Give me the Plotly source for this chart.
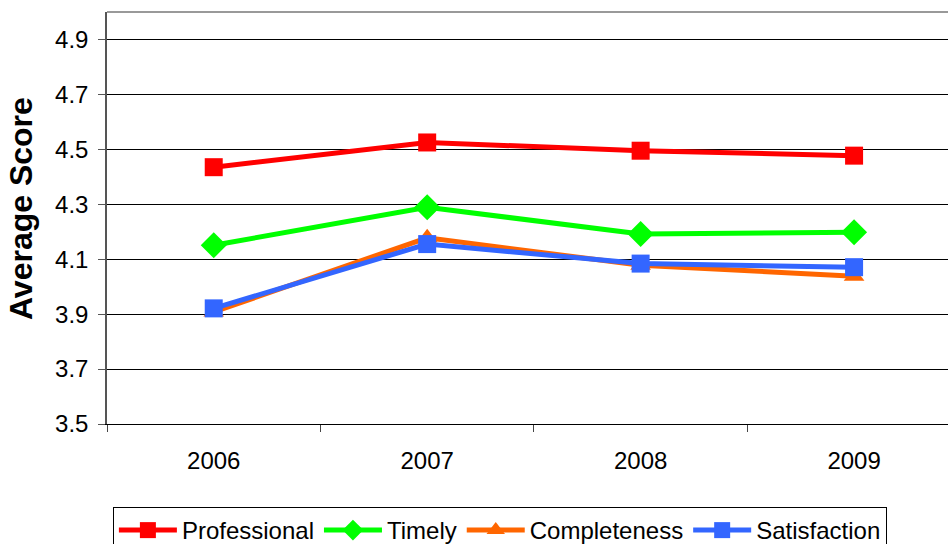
import plotly.graph_objects as go

years = ["2006", "2007", "2008", "2009"]
professional = [4.435, 4.525, 4.495, 4.477]
timely = [4.151, 4.289, 4.192, 4.198]
completeness = [3.908, 4.178, 4.078, 4.038]
satisfaction = [3.921, 4.155, 4.084, 4.071]
y_ticks = [3.5, 3.7, 3.9, 4.1, 4.3, 4.5, 4.7, 4.9]

series = [
    ("Professional", professional, "#FF0000", "square", 18),
    ("Timely", timely, "#00FF00", "diamond", 20),
    ("Completeness", completeness, "#FF6600", "triangle-up", 18),
    ("Satisfaction", satisfaction, "#3366FF", "square", 18),
]

xpos = list(range(len(years)))
fig = go.Figure()
for name, vals, color, sym, sz in series:
    fig.add_trace(go.Scatter(
        x=xpos, y=vals, name=name, mode="lines+markers",
        line=dict(color=color, width=5),
        marker=dict(symbol=sym, size=sz, color=color, line=dict(width=0)),
    ))

FONT = "Liberation Sans, Arial, sans-serif"
fig.update_layout(
    width=948, height=544,
    margin=dict(l=107, r=0, t=12, b=120, autoexpand=False),
    paper_bgcolor="white", plot_bgcolor="white",
    font=dict(family=FONT, size=24, color="black"),
    showlegend=True,
    legend=dict(
        orientation="h", x=0.007, xanchor="left", y=-0.2015, yanchor="top",
        bordercolor="black", borderwidth=1, font=dict(size=24),
        itemwidth=58, tracegroupgap=0,
    ),
    xaxis=dict(
        range=[-0.5, 3.44], tickmode="array", tickvals=xpos, ticktext=years,
        ticks="", showgrid=False, zeroline=False, automargin=False,
        showline=True, linecolor="black", linewidth=1,
        minor=dict(tickmode="array", tickvals=[-0.5, 0.5, 1.5, 2.5, 3.5],
                   ticks="outside", ticklen=7, tickcolor="#444", showgrid=False),
        ticklabelstandoff=15,
        tickfont=dict(size=24),
    ),
    yaxis=dict(
        range=[3.5, 5.0], tickmode="array", tickvals=y_ticks,
        ticktext=[f"{v:.1f}" for v in y_ticks], automargin=False,
        showgrid=True, gridcolor="black", gridwidth=1, zeroline=False,
        showline=True, linecolor="#555", linewidth=1.5,
        ticks="outside", ticklen=7, tickcolor="#555",
        ticklabelstandoff=5,
        tickfont=dict(size=24),
    ),
    annotations=[dict(
        text="<b>Average Score</b>", xref="paper", yref="paper",
        x=-0.1023, y=0.524, xanchor="center", yanchor="middle",
        textangle=-90, showarrow=False, font=dict(size=32),
    )],
)
fig.add_shape(type="line", xref="paper", yref="paper", x0=0, x1=1, y0=1, y1=1,
              line=dict(color="#777", width=1.5))
fig.write_html(
    "out.html",
    config={"displayModeBar": False},
    post_script="document.body.style.margin='0px';document.body.style.overflow='hidden';",
)
